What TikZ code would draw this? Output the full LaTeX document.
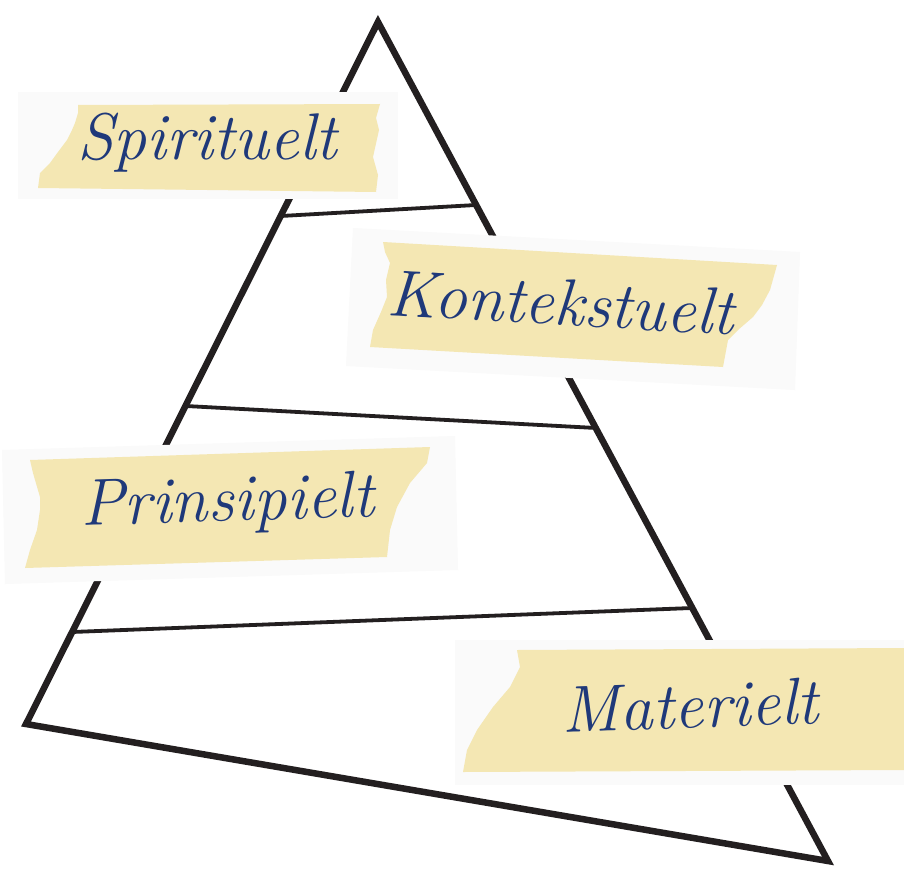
\documentclass[tikz,border=0pt]{standalone}
\definecolor{tape}{RGB}{244,231,179}
\definecolor{ink}{RGB}{31,57,122}
\definecolor{pen}{RGB}{35,31,32}
\definecolor{shade}{RGB}{250,250,250}
\begin{document}
\begin{tikzpicture}[x=1pt,y=-1pt,
  edge/.style={draw=pen,line width=6.5pt,line join=miter},
  tier/.style={draw=pen,line width=3.8pt},
  shadowbox/.style={fill=shade},
  tapestrip/.style={fill=tape},
  tapetext/.style={text=ink,font=\fontsize{66}{72}\selectfont\itshape,inner sep=0pt,anchor=base}]
\useasboundingbox[fill=white] (0,0) rectangle (904,869);

% triangle corners
\coordinate (A) at (378,22);
\coordinate (B) at (26,724);
\coordinate (C) at (828,861);
% tier line ends
\coordinate (t1l) at (281,216);
\coordinate (t1r) at (476,205);
\coordinate (t2l) at (186,406);
\coordinate (t2r) at (596,428);
\coordinate (t3l) at (72,632);
\coordinate (t3r) at (692,608);

\draw[tier] (t1l) -- (t1r);
\draw[tier] (t2l) -- (t2r);
\draw[tier] (t3l) -- (t3r);
\draw[edge] (A) -- (B) -- (C) -- cycle;

% Spirituelt tape
\fill[shadowbox] (18,92) rectangle (398,199);
\fill[tapestrip] (78,105) -- (380,104) -- (376,118) -- (379,130) -- (373,157) -- (378,175) -- (376,192)
  -- (38,188) -- (40,173) -- (50,163) -- (58,152) -- (67,140) -- (72,130) -- (75,123) -- (78,113) -- cycle;
\node[tapetext] (spi) at (207,160) {Spirituelt};

% Kontekstuelt tape
\fill[shadowbox] (353,228) -- (800,252) -- (795,390) -- (346,366) -- cycle;
\fill[tapestrip] (383,242) -- (777,265) -- (770,290) -- (762,305) -- (753,317) -- (738,330) -- (728,340) -- (723,367)
  -- (370,347) -- (373,330) -- (381,312) -- (387,297) -- (386,280) -- (390,263) -- (385,252) -- cycle;
\node[tapetext,rotate=-3.3] (kon) at (560,325) {Kontekstuelt};

% Prinsipielt tape
\fill[shadowbox] (2,450) -- (455,436) -- (458,570) -- (5,584) -- cycle;
\fill[tapestrip] (30,460) -- (430,447) -- (427,463) -- (410,483) -- (397,507) -- (390,530) -- (387,557)
  -- (25,568) -- (30,550) -- (37,530) -- (40,510) -- (40,497) -- (33,473) -- cycle;
\node[tapetext,rotate=1.8] (pri) at (228,521) {Prinsipielt};

% Materielt tape
\fill[shadowbox] (455,640) rectangle (904,785);
\fill[tapestrip] (517,650) -- (904,648) -- (904,770) -- (463,772) -- (467,750) -- (477,730) -- (493,707)
  -- (510,687) -- (520,667) -- cycle;
\node[tapetext,rotate=2] (mat) at (691,728) {Materielt};
\end{tikzpicture}
\end{document}
